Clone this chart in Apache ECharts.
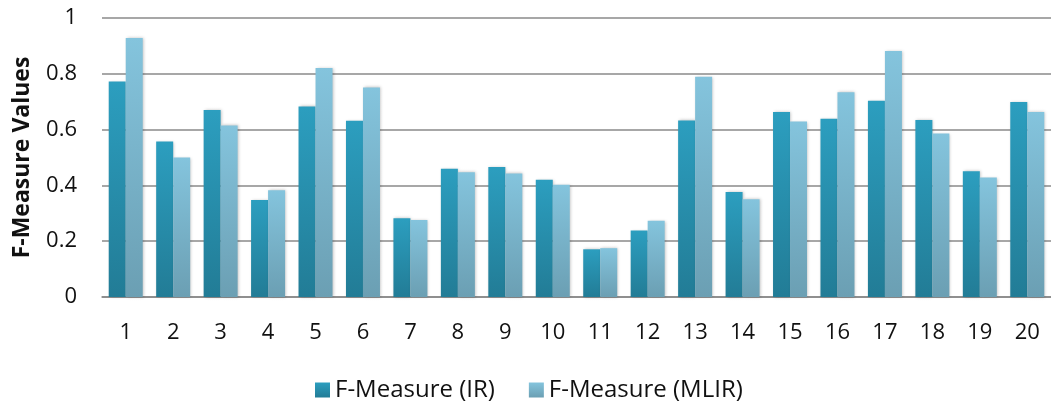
<!DOCTYPE html>
<html>
<head>
<meta charset="utf-8">
<script src="https://cdn.jsdelivr.net/npm/echarts@6/dist/echarts.min.js"></script>
<style>html,body{margin:0;padding:0;background:#fff;}#c{width:1051px;height:405px;}</style>
</head>
<body>
<div id="c"></div>
<script>
const categories = ['1','2','3','4','5','6','7','8','9','10','11','12','13','14','15','16','17','18','19','20'];
const irValues = [0.772,0.557,0.670,0.348,0.683,0.632,0.282,0.460,0.466,0.420,0.171,0.238,0.633,0.376,0.663,0.639,0.703,0.634,0.451,0.699];
const mlirValues = [0.928,0.500,0.615,0.383,0.821,0.751,0.276,0.447,0.443,0.402,0.175,0.273,0.789,0.350,0.629,0.734,0.882,0.586,0.428,0.663];
const seriesNames = ['F-Measure (IR)','F-Measure (MLIR)'];
const yTitle = 'F-Measure Values';

const FONT = '"Open Sans", "Liberation Sans", sans-serif';
function grad(top, bottom){
  return new echarts.graphic.LinearGradient(0,0,0,1,[{offset:0,color:top},{offset:1,color:bottom}]);
}
const chart = echarts.init(document.getElementById('c'), null, {renderer:'canvas'});
chart.setOption({
  animation:false,
  backgroundColor:'#fff',
  grid:{left:102,right:-1,top:18,bottom:108},
  legend:{
    bottom:-2,left:310,itemWidth:15,itemHeight:15,itemGap:34,icon:'rect',
    textStyle:{fontFamily:FONT,fontSize:24,color:'#111',padding:[0,0,0,0]},
    data:seriesNames
  },
  xAxis:{
    type:'category',data:categories,
    axisLine:{lineStyle:{color:'#888',width:1.5}},
    axisTick:{show:false},
    axisLabel:{fontFamily:FONT,fontSize:22,color:'#111',margin:25}
  },
  yAxis:{
    type:'value',min:0,max:1,interval:0.2,
    name:yTitle,nameLocation:'middle',nameGap:68,
    nameTextStyle:{fontFamily:FONT,fontSize:23,fontWeight:'bold',color:'#111'},
    axisLine:{show:false},axisTick:{show:false},
    axisLabel:{fontFamily:FONT,fontSize:22,color:'#111',margin:25,
      formatter:function(v){return String(Math.round(v*10)/10);}},
    splitLine:{lineStyle:{color:'#8a8a8a',width:1.5}}
  },
  series:[
    {name:seriesNames[0],type:'bar',data:irValues,barWidth:17,barGap:'0%',
     itemStyle:{color:grad('#2C9EBF','#227C96'),shadowColor:'rgba(0,0,0,0.25)',shadowBlur:3,shadowOffsetX:1}},
    {name:seriesNames[1],type:'bar',data:mlirValues,barWidth:17,barGap:'0%',
     itemStyle:{color:grad('#84C4DD','#6B9FB3'),shadowColor:'rgba(0,0,0,0.25)',shadowBlur:3,shadowOffsetX:1}}
  ]
});
</script>
</body>
</html>
